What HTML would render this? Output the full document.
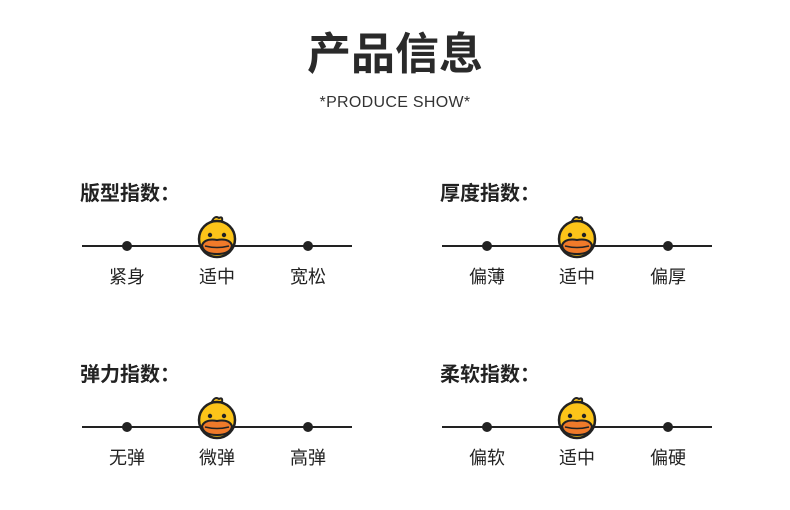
<html><head><style>
body{margin:0;width:790px;height:510px;background:#fff;font-family:"Liberation Sans","Noto Sans CJK SC",sans-serif;color:#222;position:relative;overflow:hidden}
.a{position:absolute;white-space:nowrap}
.t{font-size:44px;font-weight:bold;left:0;width:790px;text-align:center;top:28px;line-height:54px;color:#2a2a2a}
.s{font-size:16px;left:0;width:790px;text-align:center;top:94px;color:#333;letter-spacing:.3px}
.h{font-size:20px;font-weight:bold;line-height:24px}
.l{font-size:18px;line-height:22px;transform:translateX(-50%)}
.ln{height:2px;background:#222;width:270px}
.d{width:10px;height:10px;border-radius:50%;background:#222;transform:translate(-50%,-50%)}
</style></head><body>
<div class="a t">产品信息</div>
<div class="a s">*PRODUCE SHOW*</div>
<div id="g"></div>
<script>
var g=document.getElementById('g'),h='';
var sets=[[80,182,'版型指数：',['紧身','适中','宽松']],[440,182,'厚度指数：',['偏薄','适中','偏厚']],[80,363,'弹力指数：',['无弹','微弹','高弹']],[440,363,'柔软指数：',['偏软','适中','偏硬']]];
sets.forEach(function(s){var x=s[0],y=s[1];var ly=y+64;
h+='<div class="a h" style="left:'+x+'px;top:'+y+'px">'+s[2]+'</div>';
h+='<div class="a ln" style="left:'+(x+2)+'px;top:'+(ly-1)+'px"></div>';
h+='<div class="a d" style="left:'+(x+47)+'px;top:'+ly+'px"></div><div class="a d" style="left:'+(x+228)+'px;top:'+ly+'px"></div>';
var cx=x+137,cy=ly-7;
h+='<svg class="a" style="left:'+(cx-22)+'px;top:'+(cy-24)+'px" width="44" height="46" viewBox="0 0 44 46"><path d="M17 6 Q20 0 24 3 Q28 1 27 6 Z" fill="#fcc419" stroke="#222" stroke-width="2"/><circle cx="22" cy="24" r="18" fill="#fcc419" stroke="#222" stroke-width="2.5"/><circle cx="15" cy="20" r="2.2" fill="#222"/><circle cx="29" cy="20" r="2.2" fill="#222"/><path d="M7 30 Q10 23 22 25 Q34 23 37 30 Q36 39 22 39 Q8 39 7 30Z" fill="#f07a2a" stroke="#222" stroke-width="2"/><path d="M10 31 Q22 34 34 31" stroke="#222" stroke-width="1.5" fill="none"/></svg>';
[47,137,228].forEach(function(o,i){h+='<div class="a l" style="left:'+(x+o)+'px;top:'+(ly+20)+'px">'+s[3][i]+'</div>';});
});
g.innerHTML=h;
</script>
</body></html>
